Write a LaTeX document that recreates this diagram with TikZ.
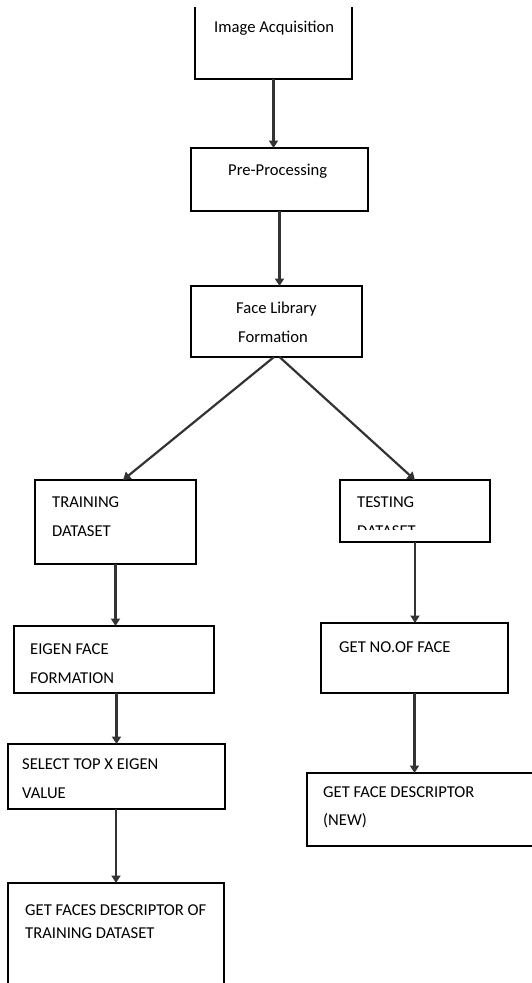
\documentclass[tikz,border=0pt]{standalone}
\usepackage{fontspec}
\setmainfont{Carlito}
\usetikzlibrary{arrows.meta,calc}
\definecolor{arrgray}{HTML}{333333}
\tikzset{
  box/.style={draw=black, line width=1.4pt, inner sep=0pt, outer sep=0pt, anchor=north west, fill=none},
  arr/.style={draw=arrgray, line width=2.6pt, -{Triangle[width=9pt,length=7.5pt]}},
  txt/.style={inner sep=0pt, anchor=base west, text=black, font=\fontsize{16.6}{19}\selectfont}
}
\begin{document}
\begin{tikzpicture}[x=1pt,y=-1pt]
\useasboundingbox (0,0) rectangle (532,983);
% boxes
\node[box, draw=none, minimum width=157pt, minimum height=72pt] (b1) at (195,7) {};
\draw[line width=1.4pt] (b1.north west) -- (b1.south west) -- (b1.south east) -- (b1.north east);
\node[box, minimum width=177pt, minimum height=63pt] (b2) at (191,148) {};
\node[box, minimum width=171pt, minimum height=71pt] (b3) at (191,286) {};
\node[box, minimum width=161pt, minimum height=84pt] (train) at (35,480) {};
\node[box, minimum width=150pt, minimum height=62pt] (test) at (340,480) {};
\node[box, minimum width=200pt, minimum height=67pt] (eigen) at (14,626) {};
\node[box, minimum width=187pt, minimum height=70pt] (noface) at (321,623) {};
\node[box, minimum width=217pt, minimum height=65pt] (select) at (8,744) {};
\node[box, minimum width=216pt, minimum height=117pt] (faces) at (8,883) {};
\node[box, minimum width=238pt, minimum height=73pt] (new) at (307,773) {};
% texts
\node[txt] (t1) at (214,32) {Image Acquisition};
\node[txt] (t2) at (228,175) {Pre-Processing};
\node[txt] (t3a) at (236,313) {Face Library};
\node[txt] (t3b) at (238,342) {Formation};
\node[txt] (t4a) at (52,507) {TRAINING};
\node[txt] (t4b) at (52,536) {DATASET};
\node[txt] (t5a) at (357,507) {TESTING};
\begin{scope}
\clip (340,480) rectangle (490,529);
\node[txt] (t5b) at (357,536) {DATASET};
\end{scope}
\node[txt] (t6a) at (30,654) {EIGEN FACE};
\node[txt] (t6b) at (30,683) {FORMATION};
\node[txt] (t7) at (339,652) {GET NO.OF FACE};
\node[txt] (t8a) at (22,769) {SELECT TOP X EIGEN};
\node[txt] (t8b) at (22,798) {VALUE};
\node[txt] (t9a) at (323,797) {GET FACE DESCRIPTOR};
\node[txt] (t9b) at (323,825) {(NEW)};
\node[txt] (t10a) at (25,915) {GET FACES DESCRIPTOR OF};
\node[txt] (t10b) at (25,938) {TRAINING DATASET};
% arrows
\draw[arr] (b1.south) -- (b1.south |- b2.north);
\draw[arr] (b2.south) -- (b2.south |- b3.north);
\draw[arr, line width=2.2pt] ([xshift=-2.5pt]b3.south) -- ([xshift=7.5pt]train.north);
\draw[arr, line width=2.2pt] ([xshift=3pt]b3.south) -- (test.north);
\draw[arr] (train.south) -- (train.south |- eigen.north);
\draw[arr] (select.north |- eigen.south) -- (select.north);
\draw[arr] (select.south -| faces.north) -- (faces.north);
\draw[arr] (test.south) -- (test.south |- noface.north);
\draw[arr] (noface.south) -- (noface.south |- new.north);
\end{tikzpicture}
\end{document}
